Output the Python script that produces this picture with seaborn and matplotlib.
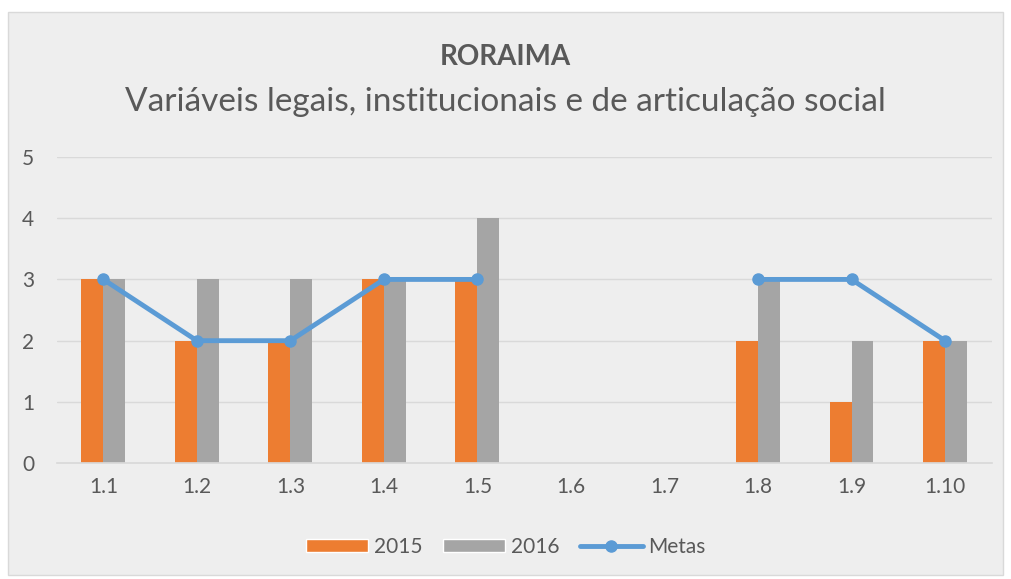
import numpy as np
import pandas as pd
import matplotlib.pyplot as plt
import seaborn as sns
from matplotlib.patches import Rectangle
from matplotlib.lines import Line2D

# data
categories = ["1.1", "1.2", "1.3", "1.4", "1.5", "1.6", "1.7", "1.8", "1.9", "1.10"]
values_2015 = [3, 2, 2, 3, 3, 0, 0, 2, 1, 2]
values_2016 = [3, 3, 3, 3, 4, 0, 0, 3, 2, 2]
metas = [3, 2, 2, 3, 3, np.nan, np.nan, 3, 3, 2]

ORANGE = "#ED7D31"
GRAY = "#A5A5A5"
BLUE = "#5B9BD5"
TEXT = "#595959"

sns.set_theme(style="white")
plt.rcParams["font.family"] = ["Lato", "DejaVu Sans"]

df = pd.DataFrame({
    "categoria": categories * 2,
    "ano": ["2015"] * len(categories) + ["2016"] * len(categories),
    "valor": values_2015 + values_2016,
})

fig = plt.figure(figsize=(10.11, 5.79), dpi=100)
fig.patch.set_facecolor("white")

# chart frame
frame = Rectangle((8 / 1011, 4 / 579), 995 / 1011, 563 / 579,
                  transform=fig.transFigure, facecolor="#EEEEEE",
                  edgecolor="#D9D9D9", linewidth=1, zorder=-5)
fig.patches.append(frame)

ax = fig.add_axes([0.056, 0.200, 0.925, 0.529])
ax.set_zorder(2)
ax.set_facecolor("none")

sns.barplot(
    data=df,
    x="categoria",
    y="valor",
    hue="ano",
    order=categories,
    palette=[ORANGE, GRAY],
    width=0.47,
    saturation=1,
    linewidth=0,
    legend=False,
    ax=ax,
)

x_pos = np.arange(len(categories))
ax.plot(x_pos, metas, color=BLUE, linewidth=3.5, marker="o",
        markersize=8, zorder=5, solid_capstyle="round")

ax.set_ylim(0, 5)
ax.set_xlim(-0.5, len(categories) - 0.5)
ax.set_yticks(range(0, 6))
ax.yaxis.grid(True, color="#D9D9D9", linewidth=1)
ax.set_axisbelow(True)
for side in ["top", "right", "left"]:
    ax.spines[side].set_visible(False)
ax.spines["bottom"].set_color("#D9D9D9")
ax.tick_params(axis="both", length=0, labelsize=15, colors=TEXT, pad=10)
ax.tick_params(axis="y", pad=16)
ax.set_xlabel("")
ax.set_ylabel("")

fig.text(0.5, 1 - 57 / 579, "RORAIMA", ha="center", va="center",
         fontsize=20, fontweight="bold", color=TEXT)
fig.text(0.5, 1 - 102 / 579,
         "Variáveis legais, institucionais e de articulação social",
         ha="center", va="center", fontsize=24, color=TEXT)

handles = [
    Rectangle((0, 0), 1, 1, facecolor=ORANGE),
    Rectangle((0, 0), 1, 1, facecolor=GRAY),
    Line2D([0], [0], color=BLUE, linewidth=3.5, marker="o", markersize=8),
]
fig.legend(handles, ["2015", "2016", "Metas"], loc="center",
           bbox_to_anchor=(0.5, 1 - 547 / 579), ncol=3, frameon=False,
           fontsize=15, labelcolor=TEXT, handlelength=3.0,
           handleheight=0.55, columnspacing=1.0, handletextpad=0.25)

plt.savefig("out.png", dpi=100, facecolor=fig.get_facecolor())
plt.close()
